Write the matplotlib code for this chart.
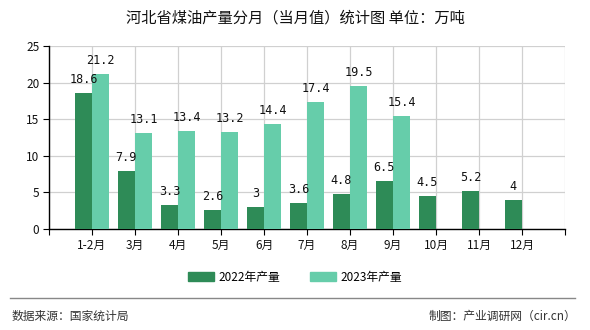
import matplotlib
matplotlib.use("Agg")
import matplotlib.pyplot as plt
from matplotlib.lines import Line2D

plt.rcParams['font.family'] = ['Noto Sans CJK SC', 'DejaVu Sans']

months = ["1-2月", "3月", "4月", "5月", "6月", "7月", "8月", "9月", "10月", "11月", "12月"]
output_2022 = [18.6, 7.9, 3.3, 2.6, 3, 3.6, 4.8, 6.5, 4.5, 5.2, 4]
output_2023 = [21.2, 13.1, 13.4, 13.2, 14.4, 17.4, 19.5, 15.4]
series_names = ["2022年产量", "2023年产量"]
y_ticks = [0, 5, 10, 15, 20, 25]

c22 = "#2E8B57"
c23 = "#66CDAA"

fig = plt.figure(figsize=(5.9, 3.3), dpi=100)
ax = fig.add_axes([49/590, 101/330, 516/590, 183/330])

w = 0.4
x22 = [i + 1 - w/2 for i in range(len(output_2022))]
x23 = [i + 1 + w/2 for i in range(len(output_2023))]
ax.bar(x22, output_2022, width=w, color=c22, zorder=3)
ax.bar(x23, output_2023, width=w, color=c23, zorder=3)

for xs, vals in ((x22, output_2022), (x23, output_2023)):
    for x, v in zip(xs, vals):
        ax.annotate(f"{v:g}", (x, v), xytext=(0, 5), textcoords="offset points",
                    ha="center", va="bottom", fontsize=8.5,
                    family=["DejaVu Sans Mono"], color="#111111", zorder=4)

ax.set_xlim(0, 12)
ax.set_ylim(0, 25)
ax.set_yticks(y_ticks)
ax.set_xticks(range(0, 13))
ax.set_xticklabels([""] + months + [""])
ax.tick_params(axis="both", labelsize=8.5, length=4, color="black", direction="out",
               labelcolor="#111111")
ax.tick_params(axis="y", pad=3)
ax.grid(True, color="#d0d0d0", linewidth=0.9, zorder=0)
for s in ("top", "right"):
    ax.spines[s].set_visible(False)
for s in ("left", "bottom"):
    ax.spines[s].set_color("black")
    ax.spines[s].set_linewidth(1.0)

fig.text(0.5, 1 - 18/330, "河北省煤油产量分月（当月值）统计图 单位：万吨",
         ha="center", va="center", fontsize=11, color="#111111")

handles = [plt.Rectangle((0, 0), 1, 1, color=c22), plt.Rectangle((0, 0), 1, 1, color=c23)]
fig.legend(handles, series_names, loc="center", bbox_to_anchor=(0.5, 1 - 277/330),
           ncol=2, frameon=False, fontsize=8.5, handlelength=2.2, handleheight=0.8,
           columnspacing=2.5, handletextpad=0.4)

fig.add_artist(Line2D([10/590, 575/590], [1 - 298/330, 1 - 298/330],
                      color="#888888", linewidth=1.0))
fig.text(12/590, 1 - 316/330, "数据来源：国家统计局", ha="left", va="center",
         fontsize=8.5, color="#333333")
fig.text(576/590, 1 - 316/330, "制图：产业调研网（cir.cn）", ha="right", va="center",
         fontsize=8.5, color="#333333")

fig.savefig("out.png", dpi=100)
